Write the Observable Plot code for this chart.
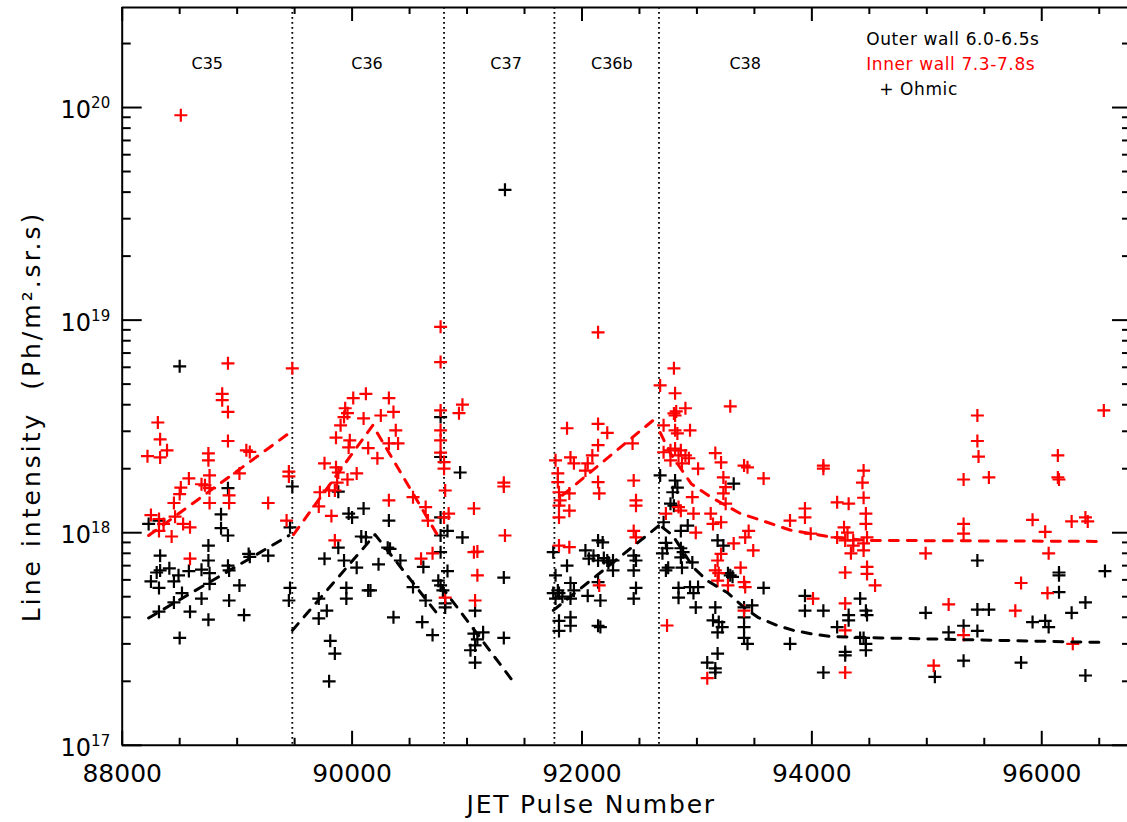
<!DOCTYPE html>
<html><head><meta charset="utf-8">
<script src="https://cdn.jsdelivr.net/npm/d3@7"></script>
<script src="https://cdn.jsdelivr.net/npm/@observablehq/plot@0.6"></script>
<style>body{margin:0;background:#fff} svg{display:block}</style>
</head><body><div id="chart"></div>
<script>
// ---------- data ----------
const outerPulse = [88230,88320,88500,88860,88860,88920,88920,88330,88750,88750,88330,88410,88300,88580,88690,88760,88250,88320,88450,88490,88760,88920,88930,89100,89110,89270,88520,88690,88930,89020,88320,88450,88590,88750,89060,88500,89480,89460,89460,89450,
89760,89930,90040,89950,89950,89710,89780,89710,89810,89850,89800,90140,89880,90000,90080,89880,90100,89970,90320,90120,90310,90330,90420,90230,90160,90360,90620,90530,90640,90610,90700,90770,90770,90770,90770,90830,90770,90830,90750,90770,90790,90810,90810,
90940,90960,91070,91060,91140,91090,91030,91070,91070,91320,91320,91330,
91750,91770,91790,91750,91770,91800,91830,91800,91800,91870,91900,91930,91900,91900,91900,92030,92060,92140,92100,92140,92220,92050,92140,92160,92140,92160,92180,92190,92230,92270,92270,92450,92470,92450,92470,92450,
92680,92810,92830,92790,92770,92800,92710,92920,92860,92730,92740,92700,92860,92880,92860,92960,92870,92750,92730,92840,92840,92940,93010,92970,92990,93180,93230,93270,93290,93310,93160,93140,93190,93220,93180,93090,93180,93160,93160,93320,93410,93410,93410,93410,93440,93480,93580,93810,93940,93940,94100,94100,94220,94320,94320,94470,94480,94450,94470,94470,94420,94290,94290,94420,
94990,95070,95190,95320,95320,95440,95440,95540,95440,95820,95920,96030,96060,96150,96150,96150,96260,96380,96380,96550];
const outerIntensity = [1.10e18,1.14e18,6.06e18,1.22e18,1.05e18,1.62e18,9.7e17,7.8e17,8.7e17,7.4e17,6.65e17,6.8e17,6.5e17,6.6e17,6.7e17,6.45e17,5.9e17,5.5e17,5.9e17,6.3e17,5.75e17,7.0e17,6.65e17,7.95e17,7.7e17,7.8e17,5.2e17,4.9e17,4.8e17,5.65e17,4.25e17,4.7e17,4.25e17,3.9e17,4.1e17,3.2e17,1.65e18,1.06e18,5.5e17,4.8e17,
7.55e17,7.4e17,6.85e17,5.5e17,4.9e17,4.9e17,4.3e17,3.95e17,3.1e17,2.7e17,2.0e17,5.35e17,8.5e17,1.18e18,9.6e17,1.56e18,1.30e18,1.23e18,1.14e18,9.5e17,8.5e17,8.4e17,7.4e17,7.1e17,5.35e17,4.0e17,6.9e17,5.55e17,4.8e17,3.8e17,3.3e17,3.5e18,2.27e18,1.18e18,9.7e17,1.02e18,8.1e17,6.6e17,5.95e17,5.65e17,5.35e17,4.65e17,4.45e17,
1.92e18,9.5e17,4.3e17,3.35e17,3.4e17,3.15e17,2.8e17,2.95e17,2.45e17,6.15e17,3.2e17,4.1e19,
8.1e17,6.3e17,5.35e17,5.2e17,4.9e17,5.2e17,5.0e17,3.85e17,3.45e17,7.0e17,5.8e17,5.35e17,4.9e17,4.0e17,3.65e17,8.25e17,7.55e17,9.2e17,7.8e17,7.4e17,7.4e17,5.05e17,5.85e17,4.8e17,3.65e17,3.6e17,9.0e17,7.6e17,7.25e17,7.4e17,6.65e17,7.8e17,7.4e17,6.65e17,5.5e17,4.9e17,
1.86e18,1.76e18,1.63e18,1.55e18,1.37e18,1.34e18,1.12e18,1.08e18,1.02e18,8.95e17,8.45e17,8.0e17,8.45e17,8.1e17,7.65e17,7.25e17,6.85e17,6.85e17,6.65e17,5.5e17,4.95e17,5.55e17,5.55e17,5.2e17,4.45e17,9.2e17,8.7e17,6.45e17,6.3e17,6.2e17,4.45e17,3.87e17,3.8e17,3.6e17,3.4e17,2.45e17,2.7e17,2.3e17,2.2e17,1.7e18,4.45e17,4.0e17,3.6e17,3.2e17,3.0e17,4.55e17,5.5e17,3.0e17,5.05e17,4.3e17,4.3e17,2.2e17,3.6e17,4.1e17,3.87e17,4.3e17,4.1e17,3.2e17,3.0e17,2.8e17,3.2e17,2.75e17,2.65e17,4.9e17,
4.2e17,2.1e17,3.4e17,3.65e17,2.5e17,7.4e17,4.35e17,4.35e17,3.45e17,2.45e17,3.8e17,3.85e17,3.6e17,6.5e17,6.3e17,5.25e17,4.2e17,4.7e17,2.13e17,6.6e17];

const innerPulse = [88510,88920,89480,88870,88870,88920,88310,88330,88390,88220,88330,88750,88750,88920,89080,89110,88580,88690,88720,88760,88760,88510,88500,88450,88760,88930,88930,89020,89270,89450,89450,88250,88320,88460,88530,88590,88320,88360,88590,88430,89430,
89710,89820,89760,89860,89880,89860,89980,89970,90140,90040,89720,89800,89850,89940,89960,89930,89900,90010,90120,90320,90360,90250,90100,90380,90320,90400,90220,89960,89870,90320,90530,90640,90660,90600,90700,89850,
90770,90770,90770,90770,90770,90770,90800,90800,90810,90840,90800,90810,
90960,90930,91320,91320,91060,91060,91090,91090,91070,91330,
91770,91790,91790,91800,91810,91800,91800,91870,91900,91930,91890,91890,92140,92220,92140,92090,92050,92030,92140,92150,92140,92440,92450,92470,92470,92450,92470,91800,91890,92150,
92680,92800,92810,92800,92810,92820,92900,92710,92810,92830,92940,93290,92710,92770,92810,92860,92840,92900,92930,92770,92870,93010,93160,93210,93410,93440,93580,93230,93250,93230,93250,92960,92970,92840,92860,93120,93140,93210,92730,92990,93320,93450,93420,93490,93210,93180,93160,93190,93180,93270,93380,93410,93420,93410,92740,93090,93940,93940,93810,93990,94100,94100,94220,94320,94450,94440,94450,94470,94470,94280,94310,94290,94220,94360,94360,94450,94480,94340,94450,94290,94480,94480,94550,94010,94290,94290,94290,
95440,95440,95450,95320,95540,95320,95320,94990,95190,95060,95320,95820,95770,95920,96030,96060,96050,96140,96140,96150,96260,96380,96400,96270,96540];
const innerIntensity = [9.2e19,6.26e18,5.93e18,4.5e18,4.2e18,3.7e18,3.3e18,2.75e18,2.44e18,2.29e18,2.26e18,2.36e18,2.19e18,2.7e18,2.44e18,2.4e18,1.8e18,1.69e18,1.67e18,1.86e18,1.62e18,1.63e18,1.52e18,1.38e18,1.38e18,1.5e18,1.38e18,1.9e18,1.38e18,1.94e18,1.84e18,1.21e18,1.16e18,1.19e18,1.1e18,1.06e18,1.02e18,1.1e18,7.55e17,9.6e17,1.14e18,
1.33e18,1.2e18,2.12e18,2.03e18,1.92e18,2.8e18,2.72e18,2.52e18,2.5e18,1.9e18,1.55e18,1.58e18,1.58e18,3.85e18,3.65e18,3.5e18,3.2e18,4.3e18,4.5e18,4.3e18,3.7e18,3.56e18,3.45e18,3.03e18,2.63e18,2.63e18,2.24e18,1.78e18,1.72e18,1.42e18,1.47e18,1.32e18,1.14e18,7.55e17,8.0e17,9.2e17,
9.3e18,6.35e18,3.76e18,3.03e18,2.72e18,2.38e18,2.15e18,2.0e18,1.58e18,1.23e18,1.18e18,4.95e17,
4.0e18,3.65e18,1.72e18,1.65e18,1.3e18,8.1e17,8.15e17,6.3e17,4.8e17,9.7e17,
2.19e18,1.9e18,1.73e18,1.55e18,1.42e18,1.34e18,1.18e18,3.1e18,2.26e18,2.12e18,1.53e18,1.27e18,3.25e18,2.95e18,2.58e18,2.31e18,2.12e18,1.96e18,1.73e18,1.53e18,8.76e18,2.63e18,1.76e18,1.42e18,1.34e18,1.02e18,9.5e17,8.7e17,8.55e17,5.65e17,
4.93e18,5.93e18,4.53e18,3.64e18,3.56e18,3.72e18,3.85e18,3.2e18,3.03e18,2.93e18,3.03e18,3.93e18,2.39e18,2.44e18,2.49e18,2.44e18,2.31e18,2.31e18,2.24e18,2.19e18,2.12e18,2.0e18,2.37e18,2.14e18,2.07e18,2.03e18,1.8e18,1.82e18,1.64e18,1.53e18,1.37e18,1.47e18,1.23e18,1.32e18,1.27e18,1.23e18,1.1e18,1.12e18,1.23e18,1.0e18,8.9e17,1.02e18,9.5e17,8.25e17,7.95e17,7.4e17,6.65e17,6.45e17,5.95e17,5.65e17,6.85e17,5.85e17,5.55e17,4.3e17,3.66e17,2.07e17,1.3e18,1.18e18,1.14e18,9.9e17,2.07e18,2.0e18,1.39e18,1.37e18,1.96e18,1.72e18,1.46e18,1.23e18,1.1e18,1.06e18,1.0e18,9.2e17,9.5e17,9.2e17,8.7e17,8.9e17,9.5e17,8.0e17,8.25e17,6.5e17,6.9e17,6.4e17,5.65e17,4.9e17,4.65e17,3.47e17,2.2e17,
3.56e18,2.7e18,2.28e18,1.78e18,1.82e18,1.1e18,9.9e17,8.0e17,4.6e17,2.37e17,3.3e17,5.8e17,4.3e17,1.15e18,1.01e18,8.0e17,5.2e17,2.31e18,1.82e18,1.78e18,1.13e18,1.18e18,1.13e18,3.0e17,3.76e18];

// dashed trend lines (one group per campaign segment)
const outerTrendGroup = [1,1,2,2,2,3,3,4,4,5,5,5,5,5,5,5,5,5,5,5,5,5,5];
const outerTrendPulse = [88230,89450,89480,90200,90770,90770,91400,91750,92670,92700,92790,92970,93090,93270,93410,93530,93700,93840,93990,94160,94600,96450,96520];
const outerTrendIntensity = [3.97e17,9.7e17,3.47e17,9.8e17,3.97e17,5.65e17,2.0e17,4.31e17,1.08e18,1.06e18,9.7e17,6.85e17,5.95e17,5.2e17,4.45e17,4.0e17,3.66e17,3.47e17,3.35e17,3.25e17,3.2e17,3.05e17,3.05e17];
const innerTrendGroup = [1,1,2,2,2,3,3,4,4,4,4,4,4,4,4,4,4];
const innerTrendPulse = [88230,89460,89490,90180,90770,91830,92670,92680,92770,92950,93120,93380,93610,93810,94190,94490,96540];
const innerTrendIntensity = [9.7e17,2.96e18,9.8e17,3.2e18,9.2e17,1.5e18,3.56e18,2.96e18,2.36e18,1.7e18,1.47e18,1.23e18,1.12e18,1.03e18,9.5e17,9.2e17,9.1e17];

// campaign boundaries and names
const campaignBoundaries = [89480, 90800, 91760, 92670];
const campaignNames = ["C35", "C36", "C37", "C36b", "C38"];
const campaignCentres = [88740, 90130, 91340, 92260, 93420];

// axes
const xMajorTicks = [88000, 90000, 92000, 94000, 96000];
const xTickLabels = ["88000", "90000", "92000", "94000", "96000"];
const xMinorTicks = [88500,89000,89500,90500,91000,91500,92500,93000,93500,94500,95000,95500,96500];
const yMajorTicks = [1e17, 1e18, 1e19, 1e20];
const yTickLabels = ["10^17", "10^18", "10^19", "10^20"];
const yMinorTicks = [2e17,3e17,4e17,5e17,6e17,7e17,8e17,9e17,2e18,3e18,4e18,5e18,6e18,7e18,8e18,9e18,2e19,3e19,4e19,5e19,6e19,7e19,8e19,9e19,2e20];
const xTitle = "JET Pulse Number";
const yTitle = "Line intensity  (Ph/m\u00B2.sr.s)";
const legendLabels = ["Outer wall 6.0-6.5s", "Inner wall 7.3-7.8s", "+ Ohmic"];
const legendColours = ["black", "#ff0000", "black"];

// ---------- chart ----------
const W = 1127, H = 822, mL = 121.7, mR = 0, mT = 7, mB = 77.2;
const plotW = W - mL - mR, plotH = H - mT - mB;
const font = "DejaVu Sans";

const outer = outerPulse.map((p, i) => ({pulse: p, intensity: outerIntensity[i]}));
const inner = innerPulse.map((p, i) => ({pulse: p, intensity: innerIntensity[i]}));
const outerTrend = outerTrendPulse.map((p, i) => ({pulse: p, intensity: outerTrendIntensity[i], g: outerTrendGroup[i]}));
const innerTrend = innerTrendPulse.map((p, i) => ({pulse: p, intensity: innerTrendIntensity[i], g: innerTrendGroup[i]}));

const plus = {draw(ctx) { const r = 6.5; ctx.moveTo(-r, 0); ctx.lineTo(r, 0); ctx.moveTo(0, -r); ctx.lineTo(0, r); }};

const chart = Plot.plot({
  width: W, height: H,
  marginLeft: mL, marginRight: mR, marginTop: mT, marginBottom: mB,
  style: {fontFamily: font, background: "white", color: "black"},
  x: {type: "linear", domain: [88000, 96746]},
  y: {type: "log", domain: [1e17, 2.955e20]},
  marks: [
    Plot.ruleX(campaignBoundaries, {stroke: "black", strokeWidth: 1.8, strokeDasharray: "1.8,3.2"}),
    Plot.tickY(yMajorTicks, {y: d => d, insetRight: plotW - 20, strokeWidth: 2}),
    Plot.tickY(yMinorTicks, {y: d => d, insetRight: plotW - 9, strokeWidth: 2}),
    Plot.tickY(yMajorTicks, {y: d => d, insetLeft: plotW - 15, strokeWidth: 2}),
    Plot.tickY(yMinorTicks, {y: d => d, insetLeft: plotW - 5, strokeWidth: 2}),
    Plot.tickX(xMajorTicks, {x: d => d, insetTop: plotH - 14, strokeWidth: 2}),
    Plot.tickX(xMinorTicks, {x: d => d, insetTop: plotH - 7, strokeWidth: 2}),
    Plot.tickX(xMajorTicks, {x: d => d, insetBottom: plotH - 14, strokeWidth: 2}),
    Plot.tickX(xMinorTicks, {x: d => d, insetBottom: plotH - 7, strokeWidth: 2}),
    Plot.ruleX([88000], {strokeWidth: 2}),
    Plot.ruleY([1e17], {strokeWidth: 2}),
    Plot.ruleY([2.955e20], {strokeWidth: 2}),
    Plot.axisX({ticks: xMajorTicks, tickSize: 0, tickPadding: 19, fontSize: 25, label: null,
      tickFormat: d => xTickLabels[xMajorTicks.indexOf(d)]}),
    Plot.axisY({ticks: yMajorTicks, tickSize: 0, tickPadding: 12, fontSize: 24, label: null, dy: 3,
      tickFormat: d => yTickLabels[yMajorTicks.indexOf(d)]}),
    Plot.dot(outer, {x: "pulse", y: "intensity", symbol: plus, stroke: "black", fill: "none", strokeWidth: 2.2}),
    Plot.dot(inner, {x: "pulse", y: "intensity", symbol: plus, stroke: "#ff0000", fill: "none", strokeWidth: 2.2}),
    Plot.line(outerTrend, {x: "pulse", y: "intensity", z: "g", stroke: "black", strokeWidth: 3, strokeDasharray: "9,9"}),
    Plot.line(innerTrend, {x: "pulse", y: "intensity", z: "g", stroke: "#ff0000", strokeWidth: 3, strokeDasharray: "9,9"}),
    Plot.text(campaignNames, {x: (d, i) => campaignCentres[i], text: d => d, frameAnchor: "top", dy: 50, fontSize: 16, fill: "black"}),
    Plot.text([legendLabels[0]], {text: d => d, frameAnchor: "top-left", textAnchor: "start", dx: 744, dy: 25, fontSize: 17, fill: legendColours[0]}),
    Plot.text([legendLabels[1]], {text: d => d, frameAnchor: "top-left", textAnchor: "start", dx: 744, dy: 50, fontSize: 17, fill: legendColours[1]}),
    Plot.text([legendLabels[2]], {text: d => d, frameAnchor: "top-left", textAnchor: "start", dx: 757, dy: 75, fontSize: 17, fill: legendColours[2]}),
    Plot.text([xTitle], {text: d => d, frameAnchor: "bottom-left", textAnchor: "middle", dx: 469, dy: 68, fontSize: 25}),
    Plot.text([yTitle], {text: d => d, frameAnchor: "left", textAnchor: "middle", rotate: -90, dx: -90, dy: 40, fontSize: 25})
  ]
});
document.getElementById("chart").appendChild(chart);

const svg = d3.select(chart);
// superscript exponents on the y tick labels
svg.selectAll('g[aria-label="y-axis tick label"] text').each(function() {
  const t = d3.select(this);
  const parts = t.text().split("^");
  t.text(null);
  t.append("tspan").text(parts[0]);
  t.append("tspan").attr("dy", -10).attr("font-size", 15).text(parts[1]);
});
// wider letter spacing, like the reference's vector font
svg.selectAll("text").filter(function() { return this.textContent === xTitle; }).attr("letter-spacing", "1.8px");
svg.selectAll("text").filter(function() { return this.textContent === yTitle; }).attr("letter-spacing", "3px");
svg.selectAll("text").filter(function() { return legendLabels.includes(this.textContent); }).attr("letter-spacing", "0.6px");
</script>
</body></html>
